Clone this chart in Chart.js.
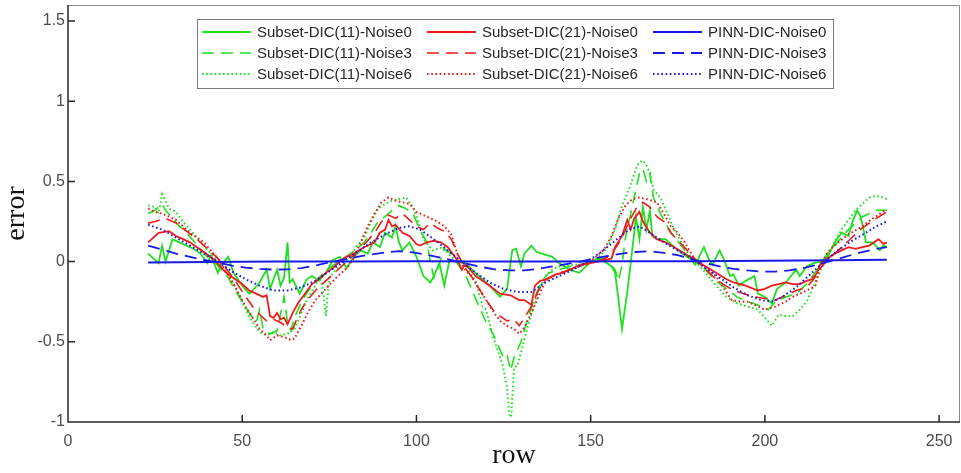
<!doctype html>
<html lang="en">
<head>
    <meta charset="utf-8">
    <title>error / row</title>
    <script src="https://cdn.jsdelivr.net/npm/chart.js@4.4.1/dist/chart.umd.min.js"></script>
    <style>
        html, body { margin: 0; padding: 0; background: #fff; }
    </style>
</head>
<body>
<canvas id="myChart" width="961" height="473"></canvas>
<script>
    // axis ticks
    var xTicks = [0, 50, 100, 150, 200, 250];
    var yTicks = [-1, -0.5, 0, 0.5, 1, 1.5];

    // [row, error]
    var s11n0 = [[23,0.05],[24,0.03],[26,-0.01],[27,0.1],[28,0.0],[30,0.14],[32,0.12],[34,0.1],[36,0.08],[38,0.05],
        [40,-0.01],[41,0.04],[43,-0.07],[44,-0.02],[46,0.03],[47.5,-0.07],[50,-0.15],[52,-0.2],[53,-0.18],[55,-0.13],
        [57,-0.05],[58,-0.17],[60,-0.05],[61,-0.15],[62,-0.1],[63,0.12],[63.6,-0.13],[64.5,-0.11],[66.5,-0.2],[68.5,-0.11],
        [70,-0.09],[72,-0.12],[74,-0.07],[76,0.01],[78,0.03],[80,-0.04],[82,0.03],[84,0.07],[86,0.05],[87.5,0.12],
        [89.5,0.09],[91,0.18],[93,0.15],[94,0.22],[95,0.12],[96,0.07],[98,0.12],[100,0.03],[102,-0.09],[104,-0.13],
        [105,-0.09],[106.6,-0.01],[108,-0.15],[109.5,0.01],[111,0.0],[114,-0.01],[116,-0.05],[118,-0.09],[121,-0.15],[124,-0.22],
        [126,-0.17],[127.5,0.07],[128.6,0.08],[130,-0.03],[131,0.05],[133,0.1],[134.5,0.06],[136,0.05],[139,0.03],[141,-0.01],
        [144,-0.05],[146.7,-0.07],[149.6,-0.01],[152,0.02],[154,0.0],[156,-0.03],[157,-0.07],[158,-0.24],[159,-0.42],[160.5,-0.19],
        [161.5,-0.01],[162.5,0.18],[163,0.28],[164,0.14],[165,0.34],[166,0.2],[167,0.32],[167.7,0.16],[169,0.14],[171.5,0.14],
        [175,0.07],[179,0.01],[180,-0.02],[182.5,0.09],[184,0.01],[185,-0.02],[187,0.07],[188.5,0.0],[190,-0.09],[191,-0.08],
        [192.5,-0.15],[194.5,-0.12],[197,-0.09],[198,-0.2],[200,-0.22],[202,-0.26],[203.5,-0.17],[206,-0.13],[207.5,-0.09],[209,-0.05],
        [210,-0.09],[212,-0.03],[214,-0.01],[216,0.0],[218,0.03],[220,0.12],[222,0.18],[224,0.16],[225,0.24],[226.5,0.32],
        [227.5,0.28],[228.5,0.18],[229,0.12],[231,0.12],[233,0.07],[234,0.1],[235,0.09]];

    var s11n3 = [[23,0.3],[25,0.32],[27,0.36],[28,0.32],[30,0.27],[32,0.22],[34,0.18],[36,0.13],[38,0.08],[40,0.03],
        [42,0.0],[44,-0.05],[46,-0.1],[48,-0.18],[50,-0.25],[52,-0.32],[54,-0.38],[55,-0.3],[56,-0.42],[58,-0.45],
        [60,-0.43],[62,-0.22],[63,-0.38],[64,-0.43],[65,-0.35],[67,-0.25],[69,-0.18],[71,-0.12],[73,-0.08],[75,-0.04],
        [77,-0.01],[79,0.02],[81,0.05],[83,0.08],[85,0.12],[87,0.18],[89,0.25],[91,0.28],[93,0.32],[95,0.35],
        [97,0.33],[99,0.3],[101,0.2],[103,0.12],[104,0.0],[105,-0.1],[106,-0.05],[108,0.08],[110,0.05],[112,-0.02],
        [114,-0.08],[116,-0.18],[118,-0.28],[120,-0.38],[122,-0.45],[124,-0.55],[125,-0.6],[126,-0.58],[127,-0.68],[128,-0.6],
        [130,-0.5],[132,-0.35],[134,-0.22],[136,-0.12],[138,-0.07],[141,-0.05],[144,-0.03],[147,-0.02],[150,0.0],[153,0.02],
        [155,0.0],[157,-0.05],[158,-0.12],[159,-0.02],[160,0.15],[161,0.25],[162,0.35],[163,0.45],[164,0.55],[165,0.58],
        [166,0.5],[167,0.55],[168,0.4],[170,0.3],[172,0.22],[174,0.15],[176,0.1],[178,0.04],[180,0.0],[183,-0.05],
        [186,-0.12],[189,-0.17],[192,-0.22],[195,-0.25],[198,-0.27],[201,-0.3],[203,-0.25],[206,-0.22],[209,-0.2],[212,-0.14],
        [214,-0.08],[216,-0.02],[218,0.05],[220,0.1],[222,0.15],[224,0.2],[226,0.24],[228,0.28],[230,0.3],[232,0.32],[235,0.32]];

    var s11n6 = [[23,0.35],[25,0.34],[26,0.3],[27,0.42],[28,0.38],[29,0.33],[31,0.31],[33,0.25],[35,0.2],[37,0.15],
        [39,0.1],[41,0.05],[43,0.0],[45,-0.06],[47,-0.12],[49,-0.2],[51,-0.3],[53,-0.38],[55,-0.44],[57,-0.46],
        [59,-0.44],[61,-0.46],[63,-0.45],[65,-0.42],[67,-0.32],[69,-0.22],[71,-0.15],[72,-0.1],[73,-0.15],[74,-0.34],
        [75,-0.1],[77,-0.05],[79,0.0],[81,0.03],[83,0.1],[85,0.15],[87,0.25],[89,0.33],[91,0.36],[93,0.38],
        [95,0.39],[97,0.4],[99,0.34],[101,0.22],[102,0.14],[104.6,0.07],[107.5,0.09],[110,0.03],[113,-0.02],[115,-0.06],
        [117,-0.12],[119,-0.28],[120,-0.3],[122,-0.47],[124.7,-0.64],[126,-0.78],[126.6,-0.95],[127.2,-0.97],[128,-0.66],[129,-0.65],
        [132,-0.4],[134.7,-0.2],[137,-0.09],[139,-0.05],[141,-0.03],[144,-0.02],[147,-0.02],[150,0.0],[153,0.04],[155,0.1],
        [157,0.2],[159,0.35],[161,0.45],[163,0.58],[164,0.62],[165,0.63],[166,0.6],[167,0.55],[168,0.45],[170,0.4],
        [172,0.3],[174,0.2],[176,0.12],[178,0.05],[180,0.0],[183,-0.07],[186,-0.15],[189,-0.22],[192,-0.26],[195,-0.28],
        [198,-0.3],[200,-0.35],[202,-0.4],[204,-0.33],[206,-0.34],[208,-0.34],[210,-0.3],[212,-0.25],[214,-0.15],[216,-0.05],
        [218,0.03],[220,0.12],[222,0.2],[224,0.26],[226,0.32],[228,0.36],[230,0.4],[232,0.41],[234,0.4],[235,0.39]];

    var s21n0 = [[23,0.12],[26,0.18],[29,0.19],[31,0.16],[33,0.14],[35,0.12],[37,0.09],[39,0.06],[42,0.01],[44.5,-0.05],
        [46,-0.08],[48,-0.11],[50,-0.14],[52,-0.18],[54,-0.2],[56,-0.22],[57,-0.21],[58,-0.34],[59,-0.35],[60,-0.32],
        [61,-0.36],[62,-0.35],[63,-0.39],[64.5,-0.32],[66,-0.26],[68,-0.2],[70,-0.14],[72,-0.11],[74,-0.07],[76,-0.04],
        [79,0.02],[82,0.05],[85,0.09],[88,0.12],[89.5,0.18],[91,0.2],[92,0.26],[93,0.22],[94,0.23],[96,0.18],
        [98,0.16],[100,0.11],[101,0.1],[103,0.12],[105,0.13],[107,0.12],[109,0.09],[111,0.03],[112,0.0],[113,-0.05],
        [114,-0.02],[115,-0.04],[117,-0.09],[119,-0.12],[121,-0.15],[124,-0.2],[127,-0.21],[129.5,-0.24],[131,-0.24],[133,-0.27],
        [134,-0.15],[135.5,-0.12],[137.5,-0.11],[140,-0.08],[142,-0.07],[145,-0.04],[147,-0.02],[150,-0.01],[152,0.0],[154,0.01],
        [156,0.02],[157,0.09],[159,0.16],[160.5,0.26],[161.5,0.2],[162.5,0.27],[164,0.31],[165,0.25],[167,0.18],[169,0.14],
        [171.5,0.12],[174,0.09],[177,0.05],[180,0.01],[183,-0.03],[186,-0.07],[189,-0.11],[191,-0.13],[194.5,-0.15],[198,-0.18],
        [200,-0.17],[202,-0.15],[204,-0.14],[206,-0.13],[208,-0.14],[210,-0.14],[212,-0.12],[213.5,-0.11],[215,-0.07],[216,-0.01],
        [218,0.02],[220,0.05],[222,0.07],[224,0.09],[226,0.08],[228,0.09],[230,0.1],[232.6,0.14],[234,0.11],[235,0.12]];

    var s21n3 = [[23,0.24],[25,0.25],[28,0.27],[31,0.24],[34,0.19],[37,0.14],[40,0.08],[43,0.02],[45,-0.03],[48,-0.12],
        [51,-0.22],[53,-0.28],[55,-0.33],[57,-0.37],[59,-0.36],[61,-0.38],[63,-0.41],[64.5,-0.42],[66,-0.34],[68,-0.26],
        [71,-0.18],[74,-0.12],[77,-0.06],[80,0.0],[83,0.06],[86,0.13],[88,0.18],[90,0.25],[92,0.29],[94,0.27],
        [96,0.3],[98,0.26],[100,0.22],[102,0.2],[104,0.24],[106,0.21],[108,0.19],[110,0.14],[112,0.04],[114,-0.04],
        [116,-0.1],[118,-0.17],[120,-0.24],[122,-0.3],[124,-0.34],[126,-0.37],[128,-0.36],[129.5,-0.4],[131,-0.35],[133,-0.28],
        [135,-0.18],[137,-0.11],[140,-0.08],[144,-0.05],[148,-0.02],[152,0.0],[155,0.03],[157,0.08],[159,0.15],[161,0.25],
        [163,0.33],[165,0.37],[167,0.34],[169,0.28],[171,0.25],[173,0.18],[176,0.11],[179,0.04],[182,-0.03],[185,-0.09],
        [188,-0.14],[191,-0.18],[194,-0.2],[197,-0.22],[200,-0.23],[203,-0.24],[206,-0.21],[209,-0.18],[212,-0.16],[214,-0.11],
        [216,-0.04],[218,0.01],[220,0.05],[222,0.09],[224,0.13],[226,0.17],[228,0.21],[230,0.24],[232,0.27],[235,0.31]];

    var s21n6 = [[23,0.33],[25,0.31],[27,0.3],[29,0.28],[31,0.26],[33,0.22],[35,0.18],[37,0.15],[39,0.12],[41,0.07],
        [43,0.02],[45,-0.05],[47,-0.12],[49,-0.2],[51,-0.28],[53,-0.35],[55,-0.42],[57,-0.46],[58,-0.49],[60,-0.46],
        [62,-0.47],[64,-0.49],[65,-0.48],[67,-0.4],[69,-0.31],[71,-0.24],[74,-0.17],[77,-0.1],[80,-0.04],[82,0.02],
        [84,0.12],[86,0.22],[88,0.3],[90,0.37],[92,0.4],[94,0.38],[96,0.37],[98,0.36],[100,0.31],[103,0.28],
        [106,0.25],[108,0.22],[110,0.17],[112,0.03],[114,-0.05],[116,-0.1],[118,-0.17],[120,-0.24],[122,-0.31],[124,-0.37],
        [126,-0.4],[128,-0.42],[129.5,-0.45],[131,-0.41],[133,-0.32],[135,-0.22],[137,-0.12],[140,-0.08],[144,-0.05],[148,-0.02],
        [151,0.02],[154,0.08],[156,0.16],[158,0.27],[160,0.35],[162,0.39],[164,0.4],[166,0.39],[169,0.37],[171.5,0.28],
        [173,0.22],[175,0.18],[177,0.12],[180,0.01],[183,-0.04],[186,-0.09],[188,-0.16],[190.5,-0.24],[193,-0.25],[195,-0.25],
        [198,-0.28],[200,-0.3],[203,-0.28],[206,-0.25],[208,-0.22],[210,-0.2],[212,-0.18],[214.5,-0.15],[216,-0.02],[218,0.06],
        [221,0.12],[224,0.17],[228,0.22],[231,0.27],[234.5,0.32],[235,0.32]];

    var pinn0 = [[23,-0.005],[40,-0.003],[60,0.0],[80,0.0],[100,0.002],[120,0.0],[140,0.0],[160,0.002],
        [180,0.003],[200,0.005],[220,0.008],[235,0.012]];

    var pinn3 = [[23,0.1],[27,0.075],[31,0.05],[35,0.03],[39,0.01],[43,-0.005],[47,-0.025],[51,-0.038],[55,-0.045],[59,-0.05],
        [63,-0.048],[67,-0.04],[71,-0.025],[75,-0.005],[79,0.012],[83,0.03],[87,0.045],[91,0.057],[95,0.065],[99,0.058],
        [103,0.042],[107,0.025],[111,0.005],[115,-0.015],[119,-0.035],[123,-0.05],[127,-0.055],[131,-0.055],[135,-0.045],[139,-0.03],
        [143,-0.015],[147,0.0],[151,0.02],[155,0.035],[159,0.05],[163,0.06],[167,0.065],[171,0.055],[175,0.04],[179,0.015],
        [183,-0.01],[187,-0.03],[191,-0.045],[195,-0.055],[199,-0.062],[203,-0.062],[207,-0.055],[211,-0.04],[215,-0.02],[219,0.005],
        [223,0.03],[227,0.055],[231,0.075],[235,0.09]];

    var pinn6 = [[23,0.23],[27,0.2],[31,0.15],[35,0.1],[39,0.05],[43,0.0],[47,-0.06],[51,-0.11],[55,-0.15],[59,-0.18],
        [63,-0.18],[67,-0.16],[71,-0.12],[75,-0.06],[79,0.0],[83,0.06],[87,0.12],[91,0.17],[95,0.21],[98,0.22],
        [101,0.2],[105,0.14],[109,0.07],[113,0.0],[117,-0.07],[121,-0.13],[125,-0.17],[129,-0.19],[133,-0.19],[137,-0.13],
        [141,-0.09],[145,-0.05],[149,0.0],[153,0.06],[157,0.13],[161,0.2],[164,0.22],[167,0.18],[171,0.12],[175,0.07],
        [179,0.02],[183,-0.04],[187,-0.1],[191,-0.16],[195,-0.21],[199,-0.24],[202,-0.25],[205,-0.22],[209,-0.16],[213,-0.08],
        [217,0.0],[221,0.07],[225,0.13],[229,0.18],[232,0.22],[235,0.25]];

    var GREEN = '#1fe01f', RED = '#ee1c1c', BLUE = '#1a1ae6';
    var DASH = [12, 7], DOT = [1.6, 2.6];

    function pts(arr) {
        return arr.map(function (p) { return {x: p[0], y: p[1]}; });
    }

    function line(label, arr, color, dash, width, order) {
        return {
            label: label,
            data: pts(arr),
            borderColor: color,
            backgroundColor: color,
            borderDash: dash,
            borderWidth: width,
            pointRadius: 0,
            tension: 0,
            order: order
        };
    }

    // datasets are in legend column order (3 per column)
    var datasets = [
        line('Subset-DIC(11)-Noise0', s11n0, GREEN, [], 1.8, 2),
        line('Subset-DIC(11)-Noise3', s11n3, GREEN, DASH, 1.6, 2),
        line('Subset-DIC(11)-Noise6', s11n6, GREEN, DOT, 2, 2),
        line('Subset-DIC(21)-Noise0', s21n0, RED, [], 1.8, 1),
        line('Subset-DIC(21)-Noise3', s21n3, RED, DASH, 1.6, 1),
        line('Subset-DIC(21)-Noise6', s21n6, RED, DOT, 2, 1),
        line('PINN-DIC-Noise0', pinn0, BLUE, [], 2, 0),
        line('PINN-DIC-Noise3', pinn3, BLUE, DASH, 1.8, 0),
        line('PINN-DIC-Noise6', pinn6, BLUE, DOT, 2, 0)
    ];

    // matlab style frame: inner ticks, grey top/right edge
    var frame = {
        id: 'frame',
        afterDatasetsDraw: function (chart) {
            var a = chart.chartArea, c = chart.ctx;
            var sx = chart.scales.x, sy = chart.scales.y;
            c.save();
            c.strokeStyle = '#8a8a8a';
            c.lineWidth = 1;
            c.beginPath();
            c.moveTo(a.left, a.top + 0.5);
            c.lineTo(a.right - 0.5, a.top + 0.5);
            c.lineTo(a.right - 0.5, a.bottom);
            c.stroke();
            c.strokeStyle = '#262626';
            c.lineWidth = 1.5;
            c.beginPath();
            c.moveTo(a.left, a.top);
            c.lineTo(a.left, a.bottom);
            c.lineTo(a.right, a.bottom);
            xTicks.forEach(function (v) {
                var px = sx.getPixelForValue(v);
                c.moveTo(px, a.bottom);
                c.lineTo(px, a.bottom - 7);
            });
            yTicks.forEach(function (v) {
                var py = sy.getPixelForValue(v);
                c.moveTo(a.left, py);
                c.lineTo(a.left + 7, py);
            });
            c.stroke();
            c.restore();
        }
    };

    var boxLegend = {
        id: 'boxLegend',
        afterDraw: function (chart) {
            var c = chart.ctx;
            var colX = [202, 427, 653];
            c.save();
            c.fillStyle = '#fff';
            c.fillRect(197.5, 19.5, 636, 69);
            c.strokeStyle = '#7a7a7a';
            c.lineWidth = 1;
            c.strokeRect(197.5, 19.5, 636, 69);
            c.font = '15px "Liberation Sans", Arial, sans-serif';
            c.textBaseline = 'middle';
            chart.data.datasets.forEach(function (ds, i) {
                var x0 = colX[Math.floor(i / 3)];
                var y = 32 + (i % 3) * 21;
                c.strokeStyle = ds.borderColor;
                c.lineWidth = ds.borderWidth;
                c.setLineDash(ds.borderDash);
                c.beginPath();
                c.moveTo(x0, y);
                c.lineTo(x0 + 49, y);
                c.stroke();
                c.setLineDash([]);
                c.fillStyle = '#262626';
                c.fillText(ds.label, x0 + 55, y + 1);
            });
            c.restore();
        }
    };

    var tickFont = {family: '"Liberation Sans", Arial, sans-serif', size: 16};
    var titleFont = {family: '"Liberation Serif", "Times New Roman", serif', size: 28};

    var ctx = document.getElementById('myChart').getContext('2d');
    var myChart = new Chart(ctx, {
        type: 'line',
        data: {datasets: datasets},
        options: {
            responsive: false,
            animation: false,
            layout: {padding: {left: 0, right: 1, top: 5, bottom: 0}},
            plugins: {legend: {display: false}, tooltip: {enabled: false}},
            scales: {
                x: {
                    type: 'linear',
                    min: 0,
                    max: 256,
                    grid: {display: false, drawTicks: false},
                    border: {display: false},
                    afterBuildTicks: function (s) { s.ticks = xTicks.map(function (v) { return {value: v}; }); },
                    afterFit: function (s) { s.height = 51; s.paddingLeft = 0; s.paddingRight = 0; },
                    ticks: {font: tickFont, color: '#4d4d4d', padding: 10, maxRotation: 0,
                        callback: function (v) { return String(v); }},
                    title: {display: true, text: 'row', font: titleFont, color: '#111', padding: {top: 0, bottom: 1}}
                },
                y: {
                    min: -1,
                    max: 1.6,
                    grid: {display: false, drawTicks: false},
                    border: {display: false},
                    afterBuildTicks: function (s) { s.ticks = yTicks.map(function (v) { return {value: v}; }); },
                    afterFit: function (s) { s.width = 68; s.paddingTop = 0; s.paddingBottom = 0; },
                    ticks: {font: tickFont, color: '#4d4d4d', padding: 3,
                        callback: function (v) { return String(v); }},
                    title: {display: true, text: 'error', font: titleFont, color: '#111', padding: {top: 0, bottom: 0}}
                }
            }
        },
        plugins: [frame, boxLegend]
    });
</script>
</body>
</html>
